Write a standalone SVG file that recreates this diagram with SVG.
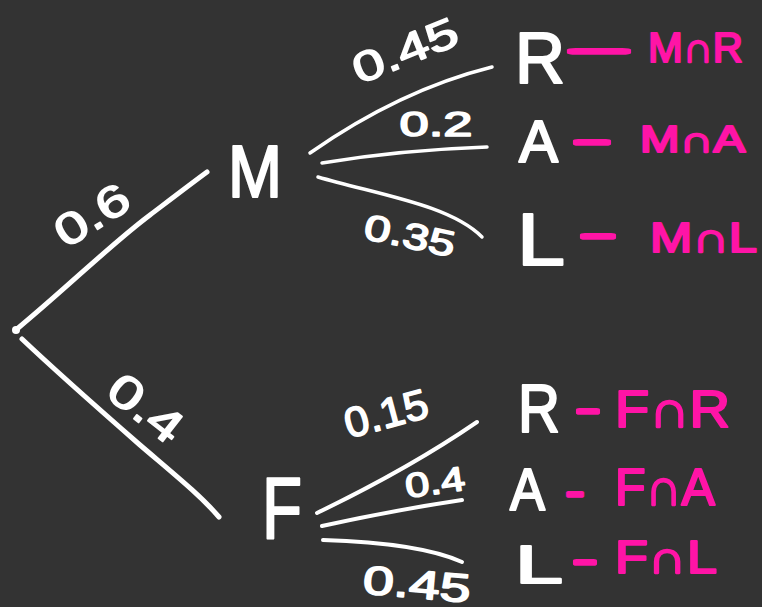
<svg xmlns="http://www.w3.org/2000/svg" width="762" height="607" viewBox="0 0 762 607">
<style>
.bg{fill:#333333}
.w{fill:#ffffff;stroke:#ffffff;stroke-width:2.2;stroke-linejoin:round;font-family:"Liberation Sans","DejaVu Sans",sans-serif}
.n{fill:#ffffff;stroke:#ffffff;stroke-width:1.6;stroke-linejoin:round;font-family:"Liberation Sans","DejaVu Sans",sans-serif;text-anchor:middle}
.p{fill:#ff14a6;stroke:#ff14a6;stroke-width:2.2;stroke-linejoin:round;stroke-linecap:round;font-family:"Liberation Sans","DejaVu Sans",sans-serif}
.d{fill:#ff14a6;stroke:#ff14a6;stroke-width:3.6;stroke-linejoin:round;stroke-linecap:round;font-family:"Liberation Sans","DejaVu Sans",sans-serif}
.e{fill:none;stroke:#ffffff;stroke-linecap:round;stroke-linejoin:round}
</style>
<rect class="bg" x="0" y="0" width="762" height="607"/>

<g id="connectors">
  <path class="e" stroke-width="5" d="M17,329 C70,285 110,245 150,215 C175,196 192,183 207,172"/>
  <path class="e" stroke-width="5" d="M22,339 C60,375 100,410 140,445 C175,475 200,495 219,517"/>
  <path class="e" stroke-width="3.5" d="M310,153 Q400,90 492,67"/>
  <path class="e" stroke-width="3.5" d="M322,163 Q400,150 487,147"/>
  <path class="e" stroke-width="3.5" d="M318,177 C380,195 450,205 482,237"/>
  <path class="e" stroke-width="4" d="M317,513 Q410,468 477,422"/>
  <path class="e" stroke-width="4" d="M322,526 Q395,510 462,500"/>
  <path class="e" stroke-width="4" d="M323,540 Q420,543 462,562"/>
</g>

<g id="edge-labels">
  <text class="n" font-size="44" textLength="80" lengthAdjust="spacingAndGlyphs" transform="translate(92,215) rotate(-32)" x="0" y="15">0.6</text>
  <text class="n" font-size="46" textLength="82" lengthAdjust="spacingAndGlyphs" transform="translate(146,408) rotate(38)" x="0" y="16">0.4</text>
  <text class="n" font-size="42" textLength="110" lengthAdjust="spacingAndGlyphs" transform="translate(405,50) rotate(-22)" x="0" y="15">0.45</text>
  <text class="n" font-size="35" textLength="73" lengthAdjust="spacingAndGlyphs" x="436" y="136">0.2</text>
  <text class="n" font-size="36" textLength="92" lengthAdjust="spacingAndGlyphs" transform="translate(410,235) rotate(12)" x="0" y="13">0.35</text>
  <text class="n" font-size="42" textLength="85" lengthAdjust="spacingAndGlyphs" transform="translate(386,413) rotate(-15)" x="0" y="15">0.15</text>
  <text class="n" font-size="34" textLength="60" lengthAdjust="spacingAndGlyphs" transform="translate(435,482) rotate(-8)" x="0" y="12">0.4</text>
  <text class="n" font-size="40" textLength="108" lengthAdjust="spacingAndGlyphs" transform="translate(417,584) rotate(5)" x="0" y="14">0.45</text>
</g>

<g id="root"><circle cx="16" cy="330" r="4" fill="#ffffff"/></g>

<g id="node-M"><text class="w" font-size="74" x="228" y="197" textLength="54" lengthAdjust="spacingAndGlyphs">M</text></g>
<g id="node-F"><text class="w" font-size="88" x="262" y="538" textLength="40" lengthAdjust="spacingAndGlyphs">F</text></g>

<g id="node-MR"><text class="w" font-size="72" x="515" y="83" textLength="50" lengthAdjust="spacingAndGlyphs">R</text></g>
<g id="node-MA"><text class="w" font-size="60" x="519" y="162" textLength="39" lengthAdjust="spacingAndGlyphs">A</text></g>
<g id="node-ML"><text class="w" font-size="74" x="517" y="265" textLength="48" lengthAdjust="spacingAndGlyphs">L</text></g>
<g id="node-FR"><text class="w" font-size="68" x="518" y="432" textLength="42" lengthAdjust="spacingAndGlyphs">R</text></g>
<g id="node-FA"><text class="w" font-size="60" x="510" y="510" textLength="35" lengthAdjust="spacingAndGlyphs">A</text></g>
<g id="node-FL"><text class="w" font-size="54" x="515" y="583" textLength="48" lengthAdjust="spacingAndGlyphs">L</text></g>

<g id="out-MR">
  <text class="d" font-size="40" x="567" y="62" textLength="64" lengthAdjust="spacingAndGlyphs">-</text>
  <text class="p" font-size="42" x="648" y="62" textLength="95" lengthAdjust="spacingAndGlyphs">M∩R</text>
</g>
<g id="out-MA">
  <text class="d" font-size="40" x="573" y="153" textLength="38" lengthAdjust="spacingAndGlyphs">-</text>
  <text class="p" font-size="36" x="640" y="152" textLength="105" lengthAdjust="spacingAndGlyphs">M∩A</text>
</g>
<g id="out-ML">
  <text class="d" font-size="40" x="580" y="247" textLength="36" lengthAdjust="spacingAndGlyphs">-</text>
  <text class="p" font-size="42" x="650" y="252" textLength="107" lengthAdjust="spacingAndGlyphs">M∩L</text>
</g>
<g id="out-FR">
  <text class="d" font-size="40" x="576" y="422" textLength="24" lengthAdjust="spacingAndGlyphs">-</text>
  <text class="p" font-size="52" x="615" y="427" textLength="115" lengthAdjust="spacingAndGlyphs">F∩R</text>
</g>
<g id="out-FA">
  <text class="d" font-size="40" x="566" y="505" textLength="18" lengthAdjust="spacingAndGlyphs">-</text>
  <text class="p" font-size="52" x="615" y="505" textLength="100" lengthAdjust="spacingAndGlyphs">F∩A</text>
</g>
<g id="out-FL">
  <text class="d" font-size="40" x="573" y="573" textLength="24" lengthAdjust="spacingAndGlyphs">-</text>
  <text class="p" font-size="46" x="615" y="573" textLength="102" lengthAdjust="spacingAndGlyphs">F∩L</text>
</g>
</svg>
